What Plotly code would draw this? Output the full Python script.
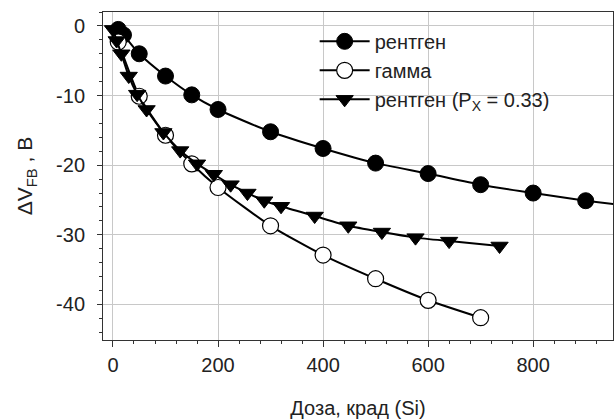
import plotly.graph_objects as go

# ---- data ----
xray_dose = [10, 20, 50, 100, 150, 200, 300, 400, 500, 600, 700, 800, 900]
xray_dvfb = [-0.5, -1.3, -4.0, -7.2, -9.9, -12.0, -15.2, -17.6, -19.7, -21.2, -22.8, -24.0, -25.1]
# continuation of the fitted x-ray curve to the right edge
xray_tail_dose = [900, 955]
xray_tail_dvfb = [-25.1, -25.6]

gamma_dose = [10, 50, 100, 150, 200, 300, 400, 500, 600, 700]
gamma_dvfb = [-2.3, -10.1, -15.7, -19.8, -23.2, -28.7, -32.9, -36.3, -39.4, -41.9]

xray33_dose = [0, 7, 16, 30, 46, 64, 96, 128, 160, 192, 224, 256, 288, 320, 384, 448, 512, 576, 640, 736]
xray33_dvfb = [-0.5, -2.1, -4.0, -7.2, -9.8, -12.0, -15.3, -17.9, -19.8, -21.3, -22.8, -24.0, -25.1, -25.9,
               -27.3, -28.7, -29.6, -30.4, -30.9, -31.6]

names = ["рентген", "гамма", "рентген (P<sub>X</sub> = 0.33)"]
x_ticks = [0, 200, 400, 600, 800]
y_ticks = [0, -10, -20, -30, -40]
x_title = "Доза, крад (Si)"
y_title = "ΔV<sub>FB</sub> , В"

FONT = "Liberation Sans, Arial, sans-serif"
FS = 20
LINE = dict(color="black", width=2, shape="spline", smoothing=0.6)

fig = go.Figure()
fig.add_trace(go.Scatter(x=xray_tail_dose, y=xray_tail_dvfb, mode="lines",
                         line=dict(color="black", width=2), showlegend=False, hoverinfo="skip"))
fig.add_trace(go.Scatter(x=xray_dose, y=xray_dvfb, mode="lines+markers", name=names[0],
                         line=LINE,
                         marker=dict(symbol="circle", size=16, color="black",
                                     line=dict(color="black", width=1))))
fig.add_trace(go.Scatter(x=gamma_dose, y=gamma_dvfb, mode="lines+markers", name=names[1],
                         line=LINE,
                         marker=dict(symbol="circle", size=16, color="white",
                                     line=dict(color="black", width=1.2))))
fig.add_trace(go.Scatter(x=xray33_dose, y=xray33_dvfb, mode="lines+markers", name=names[2],
                         line=LINE,
                         marker=dict(symbol="triangle-down", size=15, color="black",
                                     line=dict(color="black", width=1))))

fig.update_layout(
    width=614, height=419,
    margin=dict(l=103, r=1, t=12, b=79),
    paper_bgcolor="white", plot_bgcolor="white",
    font=dict(family=FONT, size=FS, color="#222222"),
    showlegend=True,
    legend=dict(x=0.415, y=0.97, xanchor="left", yanchor="top",
                bgcolor="rgba(0,0,0,0)", borderwidth=0,
                font=dict(family=FONT, size=FS, color="#222222"),
                tracegroupgap=0, itemwidth=50),
    xaxis=dict(range=[-19, 952], tickvals=x_ticks, ticktext=[str(v) for v in x_ticks],
               showgrid=True, gridcolor="#c8c8c8", gridwidth=1, zeroline=False,
               showline=True, linecolor="#333333", linewidth=1, mirror=True,
               ticks="outside", ticklen=6, tickcolor="#333333", ticklabelstandoff=1,
               minor=dict(dtick=40, tick0=0, ticks="outside", ticklen=3, tickcolor="#333333", showgrid=False),
               title=dict(text=x_title, standoff=25, font=dict(size=FS))),
    yaxis=dict(range=[-45.1, 2.0], tickvals=y_ticks, ticktext=[str(v) for v in y_ticks],
               showgrid=True, gridcolor="#c8c8c8", gridwidth=1, zeroline=False,
               showline=True, linecolor="#333333", linewidth=1, mirror=True,
               ticks="outside", ticklen=5, tickcolor="#333333", ticklabelstandoff=8,
               minor=dict(dtick=2, tick0=0, ticks="outside", ticklen=3, tickcolor="#333333", showgrid=False),
               title=dict(text=y_title, standoff=17, font=dict(size=21))),
)

fig.write_html("out.html")
